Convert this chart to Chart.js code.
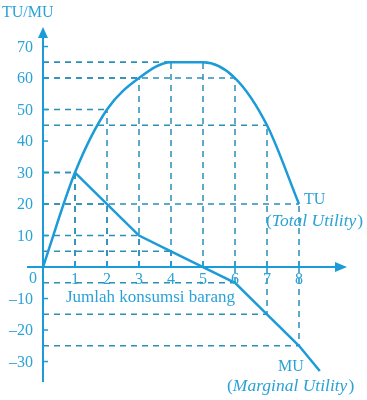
<!DOCTYPE html>
<html>
<head>
<meta charset="utf-8">
<script src="https://cdn.jsdelivr.net/npm/chart.js@4"></script>
<style>
html,body{margin:0;padding:0;background:#fff;}
#wrap{width:367px;height:400px;}
</style>
</head>
<body>
<div id="wrap"><canvas id="c" width="367" height="400"></canvas></div>
<script>
// ---- data ----
const quantities = [0, 1, 2, 3, 4, 5, 6, 7, 8];
const tuValues = [0, 30, 50, 60, 65, 65, 60, 45, 20];
const muQuantities = [1, 2, 3, 4, 5, 6, 7, 8];
const muValues = [30, 20, 10, 5, 0, -5, -15, -25];
const muTail = { x: 8.65, y: -33 };
const xTickLabels = ['1', '2', '3', '4', '5', '6', '7', '8'];
const xTickValues = [1, 2, 3, 4, 5, 6, 7, 8];
const yTickValues = [70, 60, 50, 40, 30, 20, 10, -10, -20, -30];
const yTickLabels = ['70', '60', '50', '40', '30', '20', '10', '\u201310', '\u201320', '\u201330'];

const LINE = '#1b9bd7';
const TEXT = '#2aa2d6';
const DASH = '#2b8fb6';
const SERIF = '"Liberation Serif", "DejaVu Serif", serif';

const tuData = quantities.map((q, i) => ({ x: q, y: tuValues[i] }));
const muData = muQuantities.map((q, i) => ({ x: q, y: muValues[i] })).concat([muTail]);

const guides = [];
quantities.forEach((q, i) => { if (q > 0) guides.push({ x: q, y: tuValues[i] }); });
muQuantities.forEach((q, i) => guides.push({ x: q, y: muValues[i] }));

const decor = {
  id: 'decor',
  beforeDatasetsDraw(chart) {
    const ctx = chart.ctx, xs = chart.scales.x, ys = chart.scales.y;
    const X = v => xs.getPixelForValue(v), Y = v => ys.getPixelForValue(v);
    ctx.save();
    // dashed guides
    ctx.strokeStyle = DASH; ctx.lineWidth = 1.5; ctx.setLineDash([6, 5]);
    guides.forEach(p => {
      if (p.y === 0) return;
      ctx.beginPath(); ctx.moveTo(X(0), Y(p.y)); ctx.lineTo(X(p.x), Y(p.y)); ctx.stroke();
      ctx.beginPath(); ctx.moveTo(X(p.x), Y(0)); ctx.lineTo(X(p.x), Y(p.y)); ctx.stroke();
    });
    ctx.setLineDash([]);
    // axes
    ctx.strokeStyle = LINE; ctx.lineWidth = 2;
    ctx.beginPath(); ctx.moveTo(X(0), ys.top + 8); ctx.lineTo(X(0), ys.bottom); ctx.stroke();
    ctx.beginPath(); ctx.moveTo(X(0) - 16, Y(0)); ctx.lineTo(xs.right - 8, Y(0)); ctx.stroke();
    // ticks
    ctx.lineWidth = 1.5;
    yTickValues.forEach(v => { ctx.beginPath(); ctx.moveTo(X(0), Y(v)); ctx.lineTo(X(0) + 5, Y(v)); ctx.stroke(); });
    xTickValues.forEach(v => { ctx.beginPath(); ctx.moveTo(X(v), Y(0)); ctx.lineTo(X(v), Y(0) - 6); ctx.stroke(); });
    // arrows
    ctx.fillStyle = LINE;
    ctx.beginPath(); ctx.moveTo(X(0), ys.top); ctx.lineTo(X(0) - 5, ys.top + 11); ctx.lineTo(X(0) + 5, ys.top + 11); ctx.closePath(); ctx.fill();
    ctx.beginPath(); ctx.moveTo(xs.right, Y(0)); ctx.lineTo(xs.right - 12, Y(0) - 5); ctx.lineTo(xs.right - 12, Y(0) + 5); ctx.closePath(); ctx.fill();
    ctx.restore();
  },
  afterDatasetsDraw(chart) {
    const ctx = chart.ctx, xs = chart.scales.x, ys = chart.scales.y;
    const X = v => xs.getPixelForValue(v), Y = v => ys.getPixelForValue(v);
    ctx.save();
    ctx.fillStyle = TEXT;
    ctx.font = '16px ' + SERIF;
    ctx.textBaseline = 'middle';
    ctx.textAlign = 'right';
    yTickValues.forEach((v, i) => ctx.fillText(yTickLabels[i], X(0) - 10, Y(v) + 1));
    ctx.fillText('0', X(0) - 6, Y(0) + 12);
    ctx.textAlign = 'center';
    xTickValues.forEach((v, i) => ctx.fillText(xTickLabels[i], X(v), Y(0) + 13));
    ctx.textAlign = 'left';
    ctx.font = '16px ' + SERIF;
    ctx.fillText('TU/MU', 2, 13);
    ctx.fillText('TU', 304, 200);
    ctx.fillText('MU', 278, 367);
    ctx.font = '17px ' + SERIF;
    ctx.fillText('Jumlah konsumsi barang', 66, 298);
    // italic labels with upright parens
    function paren(x, y, inner) {
      ctx.font = '17.5px ' + SERIF;
      ctx.fillText('(', x, y);
      let w = ctx.measureText('(').width;
      ctx.font = 'italic 17.5px ' + SERIF;
      ctx.fillText(inner, x + w, y);
      w += ctx.measureText(inner).width + 1;
      ctx.font = '17.5px ' + SERIF;
      ctx.fillText(')', x + w, y);
    }
    paren(266, 221, 'Total Utility');
    paren(227, 386, 'Marginal Utility');
    ctx.restore();
  }
};

new Chart(document.getElementById('c'), {
  type: 'line',
  data: {
    datasets: [
      { label: 'TU', data: tuData, borderColor: LINE, borderWidth: 2.5, pointRadius: 0, cubicInterpolationMode: 'monotone', fill: false, clip: false },
      { label: 'MU', data: muData, borderColor: LINE, borderWidth: 2.5, pointRadius: 0, tension: 0, fill: false, clip: false }
    ]
  },
  options: {
    responsive: false,
    animation: false,
    layout: { padding: { left: 43, right: 20, top: 27, bottom: 18 } },
    plugins: { legend: { display: false }, tooltip: { enabled: false } },
    scales: {
      x: { type: 'linear', min: 0, max: 9.5, display: false },
      y: { type: 'linear', min: -36.5, max: 76.2, display: false }
    }
  },
  plugins: [decor]
});
</script>
</body>
</html>
